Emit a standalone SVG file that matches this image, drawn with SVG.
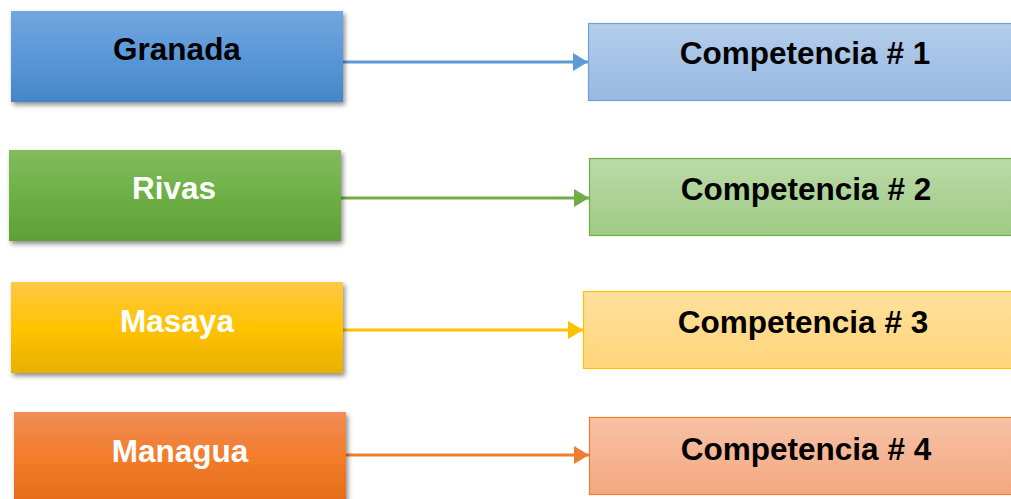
<svg xmlns="http://www.w3.org/2000/svg" width="1011" height="499" viewBox="0 0 1011 499">
<defs>
<linearGradient id="gBlue" x1="0" y1="0" x2="0" y2="1"><stop offset="0" stop-color="#72a7de"/><stop offset="0.5" stop-color="#5a98d8"/><stop offset="1" stop-color="#4586c6"/></linearGradient>
<linearGradient id="gGreen" x1="0" y1="0" x2="0" y2="1"><stop offset="0" stop-color="#82bd5d"/><stop offset="0.5" stop-color="#6db045"/><stop offset="1" stop-color="#5e9f38"/></linearGradient>
<linearGradient id="gYellow" x1="0" y1="0" x2="0" y2="1"><stop offset="0" stop-color="#ffc845"/><stop offset="0.5" stop-color="#ffc300"/><stop offset="1" stop-color="#e8b000"/></linearGradient>
<linearGradient id="gOrange" x1="0" y1="0" x2="0" y2="1"><stop offset="0" stop-color="#f08d58"/><stop offset="0.5" stop-color="#f27c2a"/><stop offset="1" stop-color="#e46c1b"/></linearGradient>
<linearGradient id="lBlue" x1="0" y1="0" x2="0" y2="1"><stop offset="0" stop-color="#b4cdea"/><stop offset="1" stop-color="#97b9e2"/></linearGradient>
<linearGradient id="lGreen" x1="0" y1="0" x2="0" y2="1"><stop offset="0" stop-color="#bbdaa8"/><stop offset="1" stop-color="#9ecb85"/></linearGradient>
<linearGradient id="lYellow" x1="0" y1="0" x2="0" y2="1"><stop offset="0" stop-color="#ffe09c"/><stop offset="1" stop-color="#ffd57a"/></linearGradient>
<linearGradient id="lOrange" x1="0" y1="0" x2="0" y2="1"><stop offset="0" stop-color="#f7c2a6"/><stop offset="1" stop-color="#f4a780"/></linearGradient>
<filter id="sh" x="-5%" y="-10%" width="115%" height="130%"><feDropShadow dx="2" dy="3" stdDeviation="2.5" flood-color="#000" flood-opacity="0.45"/></filter>
<marker id="mBlue" markerWidth="6" markerHeight="6" refX="5" refY="3" orient="auto" markerUnits="strokeWidth"><path d="M0,0 L5,3 L0,6 z" fill="#5b9bd5"/></marker>
<marker id="mGreen" markerWidth="6" markerHeight="6" refX="5" refY="3" orient="auto" markerUnits="strokeWidth"><path d="M0,0 L5,3 L0,6 z" fill="#70ad47"/></marker>
<marker id="mYellow" markerWidth="6" markerHeight="6" refX="5" refY="3" orient="auto" markerUnits="strokeWidth"><path d="M0,0 L5,3 L0,6 z" fill="#ffc000"/></marker>
<marker id="mOrange" markerWidth="6" markerHeight="6" refX="5" refY="3" orient="auto" markerUnits="strokeWidth"><path d="M0,0 L5,3 L0,6 z" fill="#ed7d31"/></marker>
</defs>
<style>
text{font-family:"Liberation Sans",Arial,sans-serif;font-weight:bold;font-size:31.5px;text-anchor:middle}
.dark{fill:#000}
.light{fill:#fff}
.src{filter:url(#sh)}
.con{stroke-width:3;fill:none}
</style>
<rect width="1011" height="499" fill="#fff"/>
<g id="connectors">
<line class="con" x1="343" y1="62" x2="588" y2="62" stroke="#5b9bd5" marker-end="url(#mBlue)"/>
<line class="con" x1="341" y1="198" x2="589" y2="198" stroke="#70ad47" marker-end="url(#mGreen)"/>
<line class="con" x1="343" y1="330" x2="583" y2="330" stroke="#ffc000" marker-end="url(#mYellow)"/>
<line class="con" x1="346" y1="455" x2="589" y2="455" stroke="#ed7d31" marker-end="url(#mOrange)"/>
</g>
<g id="granada"><rect class="src" x="11" y="11" width="332" height="91" fill="url(#gBlue)"/><text class="dark" x="177" y="60">Granada</text></g>
<g id="rivas"><rect class="src" x="9" y="150" width="332" height="91" fill="url(#gGreen)"/><text class="light" x="174" y="199">Rivas</text></g>
<g id="masaya"><rect class="src" x="11" y="282" width="332" height="91" fill="url(#gYellow)"/><text class="light" x="177" y="332">Masaya</text></g>
<g id="managua"><rect class="src" x="14" y="412" width="332" height="91" fill="url(#gOrange)"/><text class="light" x="180" y="462">Managua</text></g>
<g id="comp1"><rect x="588.5" y="23.5" width="430" height="77" fill="url(#lBlue)" stroke="#6fa0d8" stroke-width="1.2"/><text class="dark" x="805" y="64">Competencia # 1</text></g>
<g id="comp2"><rect x="589.5" y="158.5" width="430" height="77" fill="url(#lGreen)" stroke="#70ad47" stroke-width="1.2"/><text class="dark" x="806" y="200">Competencia # 2</text></g>
<g id="comp3"><rect x="583.5" y="291.5" width="436" height="77" fill="url(#lYellow)" stroke="#ffc000" stroke-width="1.2"/><text class="dark" x="803" y="333">Competencia # 3</text></g>
<g id="comp4"><rect x="589.5" y="417.5" width="430" height="77" fill="url(#lOrange)" stroke="#ed7d31" stroke-width="1.2"/><text class="dark" x="806" y="460">Competencia # 4</text></g>
</svg>
